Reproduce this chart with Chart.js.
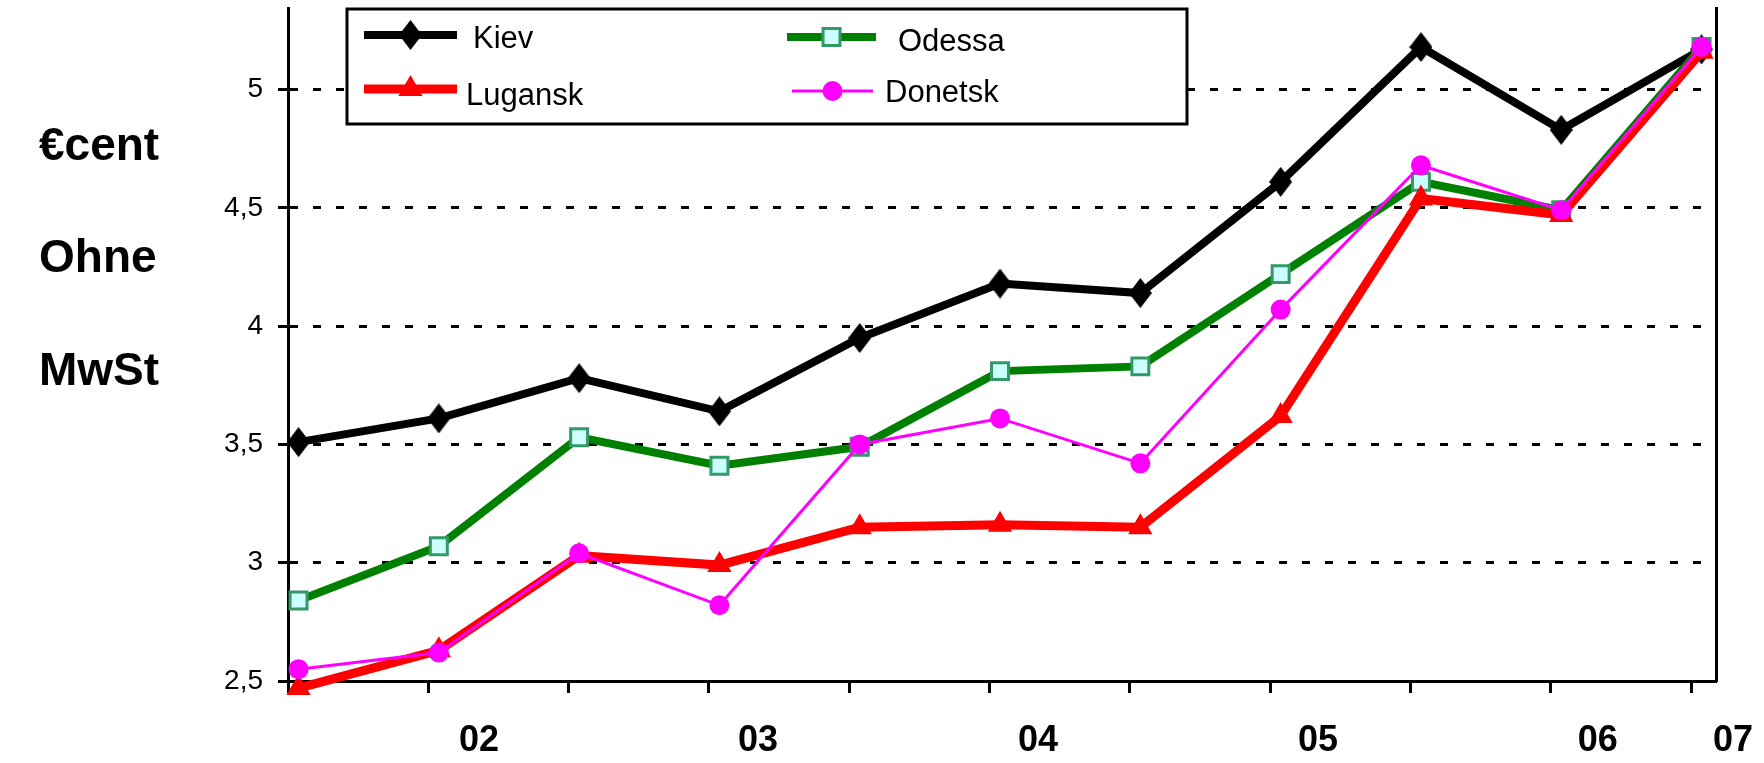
<!DOCTYPE html>
<html><head><meta charset="utf-8">
<script src="https://cdn.jsdelivr.net/npm/chart.js@4.4.1/dist/chart.umd.min.js"></script>
<style>html,body{margin:0;padding:0;background:#fff;overflow:hidden}canvas{display:block}</style>
</head><body>
<canvas id="c" width="1764" height="763"></canvas>
<script>
// ---- data ----
const seriesNames = ['Kiev', 'Odessa', 'Lugansk', 'Donetsk'];
const periods = [0, 1, 2, 3, 4, 5, 6, 7, 8, 9, 10];           // half-year steps
const kiev    = [3.51, 3.61, 3.78, 3.64, 3.95, 4.18, 4.14, 4.61, 5.18, 4.83, 5.17];
const odessa  = [2.84, 3.07, 3.53, 3.41, 3.49, 3.81, 3.83, 4.22, 4.61, 4.49, 5.18];
const lugansk = [2.47, 2.63, 3.03, 2.99, 3.15, 3.16, 3.15, 3.62, 4.54, 4.47, 5.16];
const donetsk = [2.55, 2.62, 3.04, 2.82, 3.50, 3.61, 3.42, 4.07, 4.68, 4.49, 5.18];
const xTickLabels = ['02', '03', '04', '05', '06', '07'];
const xLabelAt    = [1.287, 3.275, 5.27, 7.267, 9.26, 10.225];
const yTickValues = [2.5, 3, 3.5, 4, 4.5, 5];
const yTitleLines = ['€cent', 'Ohne', 'MwSt'];

// ---- styling helpers ----
const FONT = "'Liberation Sans', Arial, sans-serif";
const NARROW = "'Liberation Sans Narrow', 'Arial Narrow', 'Liberation Sans', sans-serif";
function diamondImg(w, h, color) {
  const c = document.createElement('canvas'); c.width = w; c.height = h;
  const g = c.getContext('2d'); g.fillStyle = color; g.beginPath();
  g.moveTo(w / 2, 0); g.lineTo(w, h / 2); g.lineTo(w / 2, h); g.lineTo(0, h / 2); g.closePath(); g.fill();
  return c;
}
const kievMarker = diamondImg(23, 30, '#000000');
const xTickMarks = periods.map(p => p - 0.075);

function pts(vals) { return vals.map((v, i) => ({x: periods[i], y: v})); }

const datasets = [
  {label: seriesNames[0], data: pts(kiev), borderColor: '#000000', backgroundColor: '#000000', borderWidth: 8,
   pointStyle: kievMarker, order: 4},
  {label: seriesNames[1], data: pts(odessa), borderColor: '#008000', backgroundColor: '#CCFFFF', borderWidth: 8,
   pointStyle: 'rect', pointRadius: 12, pointBorderColor: '#339966', pointBorderWidth: 3, order: 3},
  {label: seriesNames[2], data: pts(lugansk), borderColor: '#FF0000', backgroundColor: '#FF0000', borderWidth: 9,
   pointStyle: 'triangle', pointRadius: 14, pointBorderWidth: 0, order: 2},
  {label: seriesNames[3], data: pts(donetsk), borderColor: '#FF00FF', backgroundColor: '#FF00FF', borderWidth: 3,
   pointStyle: 'circle', pointRadius: 10, pointBorderWidth: 0, order: 1}
];
datasets.forEach(d => { d.clip = false; d.tension = 0; d.fill = false; d.pointHoverRadius = d.pointRadius; });

// legend + side title drawn on canvas
const overlay = {
  id: 'overlay',
  afterDraw(chart) {
    const ctx = chart.ctx;
    ctx.save();
    ctx.fillStyle = '#000'; ctx.font = 'bold 46px ' + FONT; ctx.textAlign = 'left'; ctx.textBaseline = 'alphabetic';
    const baselines = [160, 272, 385];
    yTitleLines.forEach((t, i) => ctx.fillText(t, 39, baselines[i]));
    ctx.fillStyle = '#fff'; ctx.fillRect(347, 9, 840, 115);
    ctx.strokeStyle = '#000'; ctx.lineWidth = 3; ctx.strokeRect(347, 9, 840, 115);
    const items = [
      {ds: 0, x1: 364, x2: 457, y: 35, tx: 473, tb: 48},
      {ds: 1, x1: 787, x2: 876, y: 37, tx: 898, tb: 51},
      {ds: 2, x1: 364, x2: 457, y: 89, tx: 466, tb: 105},
      {ds: 3, x1: 792, x2: 873, y: 91, tx: 885, tb: 102}
    ];
    items.forEach(it => {
      const d = chart.data.datasets[it.ds];
      ctx.strokeStyle = d.borderColor; ctx.lineWidth = d.borderWidth; ctx.lineCap = 'butt';
      ctx.beginPath(); ctx.moveTo(it.x1, it.y); ctx.lineTo(it.x2, it.y); ctx.stroke();
      const cx = (it.x1 + it.x2) / 2;
      if (typeof d.pointStyle === 'object') {
        ctx.drawImage(d.pointStyle, cx - d.pointStyle.width / 2, it.y - d.pointStyle.height / 2);
      } else {
        ctx.fillStyle = d.backgroundColor;
        ctx.strokeStyle = d.pointBorderColor || d.borderColor;
        ctx.lineWidth = d.pointBorderWidth || 0;
        Chart.helpers.drawPoint(ctx, {pointStyle: d.pointStyle, radius: d.pointRadius, rotation: 0,
          borderWidth: d.pointBorderWidth || 0}, cx, it.y);
      }
      ctx.fillStyle = '#000'; ctx.font = '31px ' + FONT; ctx.textAlign = 'left'; ctx.textBaseline = 'alphabetic';
      ctx.fillText(d.label, it.tx, it.tb);
    });
    ctx.restore();
  }
};

function noPad(s) {
  s.paddingTop = 0; s.paddingBottom = 0; s.paddingLeft = 0; s.paddingRight = 0;
}

new Chart(document.getElementById('c'), {
  type: 'line',
  data: {datasets},
  options: {
    responsive: false, animation: false, devicePixelRatio: 1,
    layout: {autoPadding: false, padding: {left: 0, top: 8, right: 48, bottom: 0}},
    plugins: {legend: {display: false}, tooltip: {enabled: false}},
    scales: {
      x: {
        type: 'linear', position: 'bottom', min: -0.075, max: 10.103, bounds: 'data',
        afterBuildTicks: s => { s.ticks = xTickMarks.map(v => ({value: v})); },
        afterFit: s => { s.height = 14; noPad(s); },
        ticks: {display: false},
        grid: {display: true, drawOnChartArea: false, drawTicks: true, tickLength: 12, tickColor: '#000', tickWidth: 3},
        border: {display: true, color: '#000', width: 3}
      },
      x2: {
        type: 'linear', position: 'bottom', min: -0.075, max: 10.103, bounds: 'data',
        afterBuildTicks: s => { s.ticks = xLabelAt.map(v => ({value: v})); },
        afterFit: s => { s.height = 68; noPad(s); },
        ticks: {autoSkip: false, maxRotation: 0, padding: 16, color: '#000',
          font: {family: NARROW, size: 36, weight: 'bold'},
          callback: (v, i) => xTickLabels[i]},
        grid: {display: false},
        border: {display: false}
      },
      y: {
        type: 'linear', position: 'left', min: 2.5, max: 5.345, bounds: 'data',
        afterBuildTicks: s => { s.ticks = yTickValues.map(v => ({value: v})); },
        afterFit: s => { s.width = 288; noPad(s); },
        ticks: {padding: 15, color: '#000', font: {family: FONT, size: 28},
          callback: v => String(v).replace('.', ',')},
        grid: {display: true, drawOnChartArea: true, color: '#000', lineWidth: 3,
          tickLength: 10, tickColor: '#000', tickWidth: 3, tickBorderDash: []},
        border: {display: true, color: '#000', width: 3, dash: [8, 15]}
      },
      yR: {
        type: 'linear', position: 'right', min: 2.5, max: 5.345,
        afterFit: s => { s.width = 0; noPad(s); },
        ticks: {display: false},
        grid: {display: false, drawTicks: false},
        border: {display: true, color: '#000', width: 3}
      }
    }
  },
  plugins: [overlay]
});
</script>
</body></html>
